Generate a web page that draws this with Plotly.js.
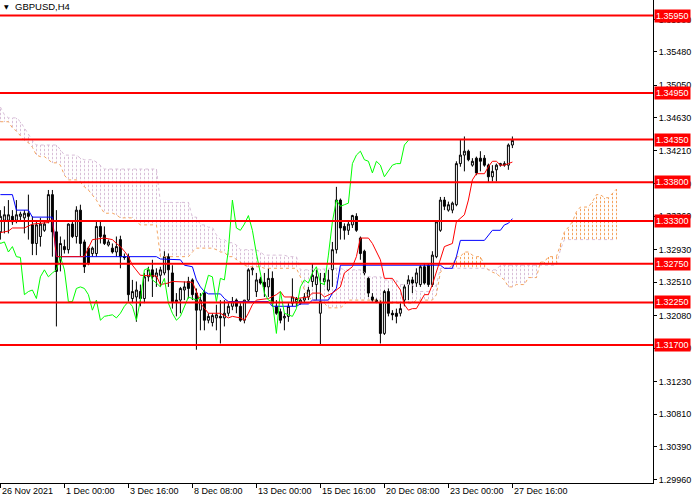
<!DOCTYPE html>
<html>
<head>
<meta charset="utf-8">
<script src="https://cdn.plot.ly/plotly-3.0.1.min.js"></script>
<style>
  html, body { margin: 0; padding: 0; background: #fff; }
  #chart { width: 700px; height: 500px; }
</style>
</head>
<body>
<div id="chart"></div>
<script>
// GBPUSD H4 candles, bar 0 = 26 Nov 2021 08:00
var openP = [1.3316,1.3331,1.3331,1.3336,1.3331,1.3336,1.3334,1.3340,1.3325,1.3301,
  1.3310,1.3318,1.3329,1.3364,1.3316,1.3280,1.3297,1.3293,1.3326,1.3310,
  1.3344,1.3303,1.3295,1.3288,1.3288,1.3323,1.3312,1.3299,1.3295,1.3290,
  1.3306,1.3284,1.3284,1.3230,1.3232,1.3239,1.3230,1.3258,1.3267,1.3258,
  1.3260,1.3263,1.3284,1.3263,1.3228,1.3228,1.3241,1.3252,1.3254,1.3237,
  1.3215,1.3237,1.3202,1.3199,1.3205,1.3207,1.3205,1.3211,1.3220,1.3228,
  1.3220,1.3202,1.3228,1.3267,1.3239,1.3255,1.3251,1.3245,1.3256,1.3220,
  1.3213,1.3205,1.3207,1.3224,1.3226,1.3224,1.3228,1.3232,1.3252,1.3248,
  1.3211,1.3252,1.3241,1.3267,1.3293,1.3357,1.3323,1.3318,1.3325,1.3336,
  1.3308,1.3291,1.3256,1.3232,1.3228,1.3224,1.3185,1.3239,1.3211,1.3211,
  1.3211,1.3228,1.3248,1.3254,1.3250,1.3248,1.3271,1.3273,1.3248,1.3284,
  1.3318,1.3357,1.3344,1.3344,1.3351,1.3404,1.3415,1.3420,1.3402,1.3411,
  1.3411,1.3411,1.3402,1.3387,1.3396,1.3402,1.3402,1.3402,1.3428];
var highP = [1.3344,1.3349,1.3357,1.3344,1.3357,1.3342,1.3344,1.3364,1.3336,1.3331,
  1.3334,1.3329,1.3370,1.3370,1.3344,1.3310,1.3306,1.3327,1.3329,1.3349,
  1.3351,1.3306,1.3297,1.3297,1.3329,1.3329,1.3323,1.3306,1.3301,1.3310,
  1.3311,1.3288,1.3288,1.3254,1.3252,1.3248,1.3263,1.3271,1.3280,1.3269,
  1.3271,1.3291,1.3288,1.3273,1.3237,1.3245,1.3252,1.3258,1.3256,1.3243,
  1.3237,1.3241,1.3211,1.3211,1.3222,1.3228,1.3228,1.3224,1.3232,1.3230,
  1.3224,1.3228,1.3269,1.3271,1.3263,1.3258,1.3263,1.3269,1.3265,1.3228,
  1.3217,1.3211,1.3224,1.3256,1.3232,1.3230,1.3237,1.3245,1.3275,1.3267,
  1.3263,1.3263,1.3267,1.3303,1.3374,1.3359,1.3327,1.3329,1.3338,1.3340,
  1.3310,1.3293,1.3258,1.3237,1.3230,1.3228,1.3241,1.3243,1.3215,1.3217,
  1.3224,1.3248,1.3260,1.3258,1.3269,1.3273,1.3275,1.3275,1.3291,1.3331,
  1.3361,1.3361,1.3355,1.3355,1.3407,1.3435,1.3439,1.3422,1.3411,1.3413,
  1.3420,1.3415,1.3404,1.3402,1.3404,1.3405,1.3407,1.3430,1.3439];
var lowP = [1.3306,1.3314,1.3314,1.3325,1.3327,1.3331,1.3314,1.3306,1.3286,1.3286,
  1.3297,1.3316,1.3327,1.3284,1.3194,1.3265,1.3288,1.3288,1.3308,1.3301,
  1.3284,1.3263,1.3273,1.3284,1.3284,1.3301,1.3299,1.3297,1.3288,1.3284,
  1.3269,1.3280,1.3226,1.3224,1.3200,1.3220,1.3224,1.3252,1.3232,1.3245,
  1.3245,1.3260,1.3245,1.3217,1.3207,1.3211,1.3228,1.3230,1.3228,1.3164,
  1.3189,1.3189,1.3198,1.3194,1.3189,1.3172,1.3194,1.3207,1.3215,1.3211,
  1.3200,1.3198,1.3226,1.3260,1.3232,1.3248,1.3232,1.3232,1.3220,1.3209,
  1.3198,1.3189,1.3200,1.3220,1.3220,1.3222,1.3224,1.3228,1.3245,1.3228,
  1.3170,1.3248,1.3239,1.3245,1.3288,1.3306,1.3306,1.3312,1.3321,1.3316,
  1.3280,1.3260,1.3232,1.3226,1.3224,1.3172,1.3183,1.3207,1.3202,1.3198,
  1.3207,1.3220,1.3228,1.3237,1.3245,1.3245,1.3248,1.3245,1.3245,1.3282,
  1.3316,1.3344,1.3342,1.3340,1.3349,1.3400,1.3394,1.3407,1.3400,1.3389,
  1.3394,1.3400,1.3379,1.3381,1.3381,1.3400,1.3400,1.3396,1.3424];
var closeP = [1.3336,1.3338,1.3338,1.3329,1.3338,1.3339,1.3340,1.3336,1.3301,1.3325,
  1.3326,1.3326,1.3364,1.3316,1.3265,1.3301,1.3293,1.3326,1.3310,1.3344,
  1.3301,1.3271,1.3275,1.3295,1.3323,1.3310,1.3301,1.3303,1.3290,1.3297,
  1.3284,1.3283,1.3235,1.3239,1.3241,1.3230,1.3258,1.3267,1.3258,1.3263,
  1.3267,1.3284,1.3267,1.3226,1.3226,1.3243,1.3245,1.3243,1.3235,1.3215,
  1.3228,1.3202,1.3207,1.3208,1.3209,1.3205,1.3211,1.3220,1.3226,1.3220,
  1.3202,1.3228,1.3267,1.3269,1.3254,1.3250,1.3245,1.3256,1.3224,1.3211,
  1.3202,1.3207,1.3220,1.3232,1.3230,1.3228,1.3232,1.3241,1.3260,1.3258,
  1.3226,1.3256,1.3254,1.3293,1.3357,1.3321,1.3318,1.3326,1.3337,1.3318,
  1.3288,1.3263,1.3237,1.3228,1.3226,1.3185,1.3239,1.3211,1.3209,1.3207,
  1.3217,1.3245,1.3254,1.3250,1.3263,1.3271,1.3250,1.3248,1.3286,1.3329,
  1.3357,1.3349,1.3351,1.3353,1.3404,1.3415,1.3420,1.3409,1.3407,1.3392,
  1.3407,1.3402,1.3387,1.3394,1.3402,1.3404,1.3404,1.3428,1.3434];

// Tenkan-sen (red) and Kijun-sen (blue), read at the bars where they turn
var tenkanIdx = [0,2,3,6,8,12,13,14,21,22,23,26,28,29,30,31,32,33,35,39,40,42,43,48,49,50,52,55,57,58,
  60,61,62,63,64,67,68,69,70,71,73,74,77,78,80,81,83,85,86,88,89,90,92,93,95,96,98,100,101,102,
  103,104,106,107,108,110,111,113,114,116,117,118,119,121,122,123,124,125,126,127,128];
var tenkanVal = [1.3315,1.3317,1.3321,1.3321,1.3326,1.3328,1.3332,1.3284,1.3284,1.3295,1.3306,1.3308,1.3306,1.3301,1.3297,1.3291,1.3284,1.3273,1.3260,1.3259,1.3248,1.3250,1.3252,1.3251,1.3239,1.3224,1.3211,1.3211,1.3205,1.3207,
  1.3205,1.3202,1.3211,1.3222,1.3228,1.3230,1.3232,1.3235,1.3239,1.3232,1.3232,1.3230,1.3232,1.3237,1.3237,1.3232,1.3237,1.3245,1.3263,1.3271,1.3284,1.3308,1.3308,1.3301,1.3280,1.3256,1.3256,1.3241,1.3222,1.3215,
  1.3217,1.3217,1.3235,1.3235,1.3248,1.3280,1.3297,1.3301,1.3329,1.3338,1.3357,1.3383,1.3391,1.3391,1.3400,1.3407,1.3407,1.3402,1.3402,1.3404,1.3406];
var kijunIdx = [0,3,4,7,8,13,14,39,40,45,46,48,49,50,51,52,55,56,57,67,68,74,75,77,78,82,83,84,85,110,
  111,113,114,115,121,122,123,125,126,127,128];
var kijunVal = [1.3364,1.3364,1.3344,1.3344,1.3335,1.3335,1.3284,1.3284,1.3281,1.3280,1.3273,1.3271,1.3254,1.3245,1.3239,1.3236,1.3236,1.3230,1.3226,1.3226,1.3220,1.3220,1.3223,1.3223,1.3228,1.3228,1.3237,1.3243,1.3273,1.3273,
  1.3269,1.3269,1.3284,1.3305,1.3305,1.3312,1.3318,1.3318,1.3325,1.3327,1.3333];

// Senkou spans, one value per bar 0..154 (already shifted 26 bars forward)
var spanA = [1.3458,1.3458,1.3458,1.3450,1.3446,1.3440,1.3434,1.3431,1.3425,1.3415,
  1.3413,1.3413,1.3409,1.3405,1.3405,1.3402,1.3389,1.3383,1.3383,1.3383,
  1.3380,1.3374,1.3370,1.3364,1.3357,1.3348,1.3340,1.3340,1.3340,1.3338,
  1.3334,1.3334,1.3334,1.3334,1.3329,1.3325,1.3325,1.3325,1.3325,1.3325,
  1.3284,1.3284,1.3284,1.3284,1.3284,1.3284,1.3284,1.3284,1.3290,1.3295,
  1.3295,1.3295,1.3295,1.3295,1.3293,1.3290,1.3290,1.3284,1.3284,1.3280,
  1.3276,1.3273,1.3271,1.3271,1.3271,1.3271,1.3269,1.3269,1.3269,1.3269,
  1.3269,1.3269,1.3269,1.3269,1.3269,1.3258,1.3241,1.3232,1.3228,1.3228,
  1.3228,1.3224,1.3218,1.3218,1.3218,1.3218,1.3222,1.3228,1.3228,1.3228,
  1.3228,1.3228,1.3228,1.3228,1.3228,1.3228,1.3224,1.3224,1.3224,1.3224,
  1.3224,1.3224,1.3224,1.3224,1.3228,1.3228,1.3228,1.3228,1.3228,1.3235,
  1.3264,1.3269,1.3269,1.3273,1.3284,1.3284,1.3290,1.3290,1.3286,1.3284,
  1.3284,1.3273,1.3267,1.3264,1.3262,1.3258,1.3254,1.3245,1.3245,1.3248,
  1.3248,1.3248,1.3257,1.3257,1.3257,1.3277,1.3277,1.3284,1.3284,1.3284,
  1.3299,1.3316,1.3322,1.3329,1.3342,1.3348,1.3348,1.3348,1.3355,1.3364,
  1.3364,1.3360,1.3360,1.3366,1.3371];
var spanB = [1.3477,1.3467,1.3463,1.3463,1.3463,1.3458,1.3450,1.3442,1.3434,1.3428,
  1.3428,1.3428,1.3428,1.3428,1.3428,1.3422,1.3415,1.3415,1.3415,1.3415,
  1.3411,1.3409,1.3409,1.3409,1.3406,1.3402,1.3397,1.3397,1.3397,1.3397,
  1.3397,1.3397,1.3397,1.3397,1.3397,1.3397,1.3397,1.3397,1.3397,1.3397,
  1.3354,1.3354,1.3354,1.3354,1.3354,1.3354,1.3354,1.3354,1.3335,1.3335,
  1.3325,1.3325,1.3322,1.3322,1.3312,1.3306,1.3306,1.3302,1.3302,1.3299,
  1.3293,1.3293,1.3293,1.3293,1.3293,1.3290,1.3286,1.3286,1.3286,1.3286,
  1.3286,1.3286,1.3284,1.3284,1.3284,1.3267,1.3267,1.3267,1.3268,1.3268,
  1.3268,1.3268,1.3269,1.3269,1.3269,1.3269,1.3267,1.3267,1.3267,1.3267,
  1.3267,1.3264,1.3258,1.3258,1.3258,1.3258,1.3254,1.3254,1.3254,1.3254,
  1.3248,1.3248,1.3248,1.3248,1.3239,1.3239,1.3239,1.3239,1.3239,1.3248,
  1.3269,1.3269,1.3269,1.3269,1.3269,1.3269,1.3269,1.3269,1.3269,1.3269,
  1.3269,1.3269,1.3267,1.3267,1.3267,1.3273,1.3273,1.3273,1.3273,1.3273,
  1.3273,1.3273,1.3273,1.3273,1.3273,1.3273,1.3273,1.3273,1.3273,1.3273,
  1.3293,1.3306,1.3306,1.3306,1.3306,1.3306,1.3306,1.3306,1.3306,1.3306,
  1.3306,1.3306,1.3306,1.3306,1.3306];

// horizontal levels and axis ticks
var levels = [1.3595, 1.3495, 1.3435, 1.3380, 1.3330, 1.3275, 1.3225, 1.3170];
var priceTicks = [1.29960,1.30390,1.30810,1.31230,1.31660,1.32080,1.32510,1.32930,
  1.33360,1.33780,1.34210,1.34630,1.35050,1.35480,1.35900];
var timeTickIdx = [0, 16, 32, 48, 64, 80, 96, 112, 128];
var timeTickText = ["26 Nov 2021", "1 Dec 00:00", "3 Dec 16:00", "8 Dec 08:00", "13 Dec 00:00",
  "15 Dec 16:00", "20 Dec 08:00", "23 Dec 00:00", "27 Dec 16:00"];

var FONT = "Liberation Sans, Arial, sans-serif";
var idx = closeP.map(function (_, i) { return i; });
var spanIdx = spanA.map(function (_, i) { return i; });

// kumo histogram: one dashed stroke per bar, coloured by which span is on top
var upX = [], upBase = [], upH = [], dnX = [], dnBase = [], dnH = [];
spanA.forEach(function (a, i) {
  var b = spanB[i];
  if (a >= b) { upX.push(i); upBase.push(b); upH.push(a - b); }
  else { dnX.push(i); dnBase.push(a); dnH.push(b - a); }
});
function kumo(x, base, h, col) {
  return {
    type: "bar", x: x, base: base, y: h, width: 0.3, hoverinfo: "skip",
    marker: {color: col, line: {width: 0},
      pattern: {shape: "-", fillmode: "replace", bgcolor: "rgba(0,0,0,0)", fgcolor: col, size: 4, solidity: 0.6}}
  };
}

var data = [
  kumo(dnX, dnBase, dnH, "#D8BFD8"),
  kumo(upX, upBase, upH, "#F4A460"),
  {type: "scatter", mode: "lines", x: spanIdx, y: spanB,
   line: {color: "#D8BFD8", width: 1, dash: "dot"}, hoverinfo: "skip"},
  {type: "scatter", mode: "lines", x: spanIdx, y: spanA,
   line: {color: "#F4A460", width: 1, dash: "dot"}, hoverinfo: "skip"},
  {type: "candlestick", x: idx, open: openP, high: highP, low: lowP, close: closeP,
   increasing: {line: {color: "black", width: 1}, fillcolor: "white"},
   decreasing: {line: {color: "black", width: 1}, fillcolor: "black"},
   whiskerwidth: 0, hoverinfo: "skip"},
  {type: "scatter", mode: "lines", x: kijunIdx, y: kijunVal, line: {color: "#0000ff", width: 1}, hoverinfo: "skip"},
  {type: "scatter", mode: "lines", x: tenkanIdx, y: tenkanVal, line: {color: "#ff0000", width: 1}, hoverinfo: "skip"},
  // chikou span: closes drawn 26 bars back
  {type: "scatter", mode: "lines", x: idx.map(function (i) { return i - 26; }), y: closeP,
   line: {color: "#00ff00", width: 1}, hoverinfo: "skip"}
];

var shapes = levels.map(function (lv) {
  return {type: "line", xref: "paper", x0: 0, x1: 1, yref: "y", y0: lv, y1: lv,
    line: {color: "#ff0000", width: 2}};
});

// red price tags sit over the axis labels, as in the terminal
var annotations = levels.map(function (lv) {
  return {xref: "paper", x: 1, xanchor: "left", xshift: 1, yref: "y", y: lv, yanchor: "middle",
    text: lv.toFixed(5), showarrow: false, bgcolor: "#ff0000", borderpad: 1,
    font: {family: FONT, size: 9, color: "white"}};
});
timeTickIdx.forEach(function (t, k) {
  annotations.push({xref: "x", x: t, xanchor: "left", xshift: 0, yref: "paper", y: 0, yanchor: "top",
    yshift: -1, text: timeTickText[k], showarrow: false, font: {family: FONT, size: 9, color: "black"}});
});
annotations.push({xref: "paper", x: 0, xanchor: "left", xshift: 2, yref: "paper", y: 1, yanchor: "top",
  yshift: -1, text: "▼", showarrow: false, font: {family: "DejaVu Sans", size: 6, color: "black"}});
annotations.push({xref: "paper", x: 0, xanchor: "left", xshift: 13, yref: "paper", y: 1, yanchor: "top",
  yshift: 1, text: "GBPUSD,H4", showarrow: false, font: {family: FONT, size: 9.5, color: "black"}});

var layout = {
  width: 700, height: 500,
  margin: {l: 0, r: 47, t: 0, b: 17},
  paper_bgcolor: "white", plot_bgcolor: "white",
  showlegend: false, barmode: "overlay", bargap: 0,
  xaxis: {range: [-0.1, 163.15], showgrid: false, zeroline: false, showline: true,
    linecolor: "black", linewidth: 1, tickmode: "array", tickvals: timeTickIdx,
    ticks: "outside", ticklen: 4, tickcolor: "black", showticklabels: false,
    rangeslider: {visible: false}, fixedrange: true},
  yaxis: {range: [1.29921, 1.36150], side: "right", showgrid: false, zeroline: false,
    showline: true, linecolor: "black", linewidth: 1, tickmode: "array",
    tickvals: priceTicks, ticktext: priceTicks.map(function (v) { return v.toFixed(5); }),
    ticks: "outside", ticklen: 3, tickcolor: "black",
    tickfont: {family: FONT, size: 9, color: "black"}, fixedrange: true},
  shapes: shapes,
  annotations: annotations
};

Plotly.newPlot("chart", data, layout, {displayModeBar: false, staticPlot: true});
</script>
</body>
</html>
